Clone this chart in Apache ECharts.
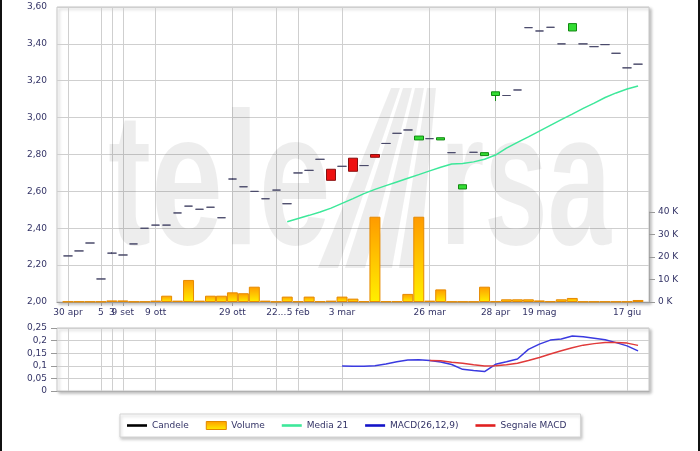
<!DOCTYPE html>
<html><head><meta charset="utf-8">
<script src="https://cdn.jsdelivr.net/npm/echarts@6/dist/echarts.min.js"></script>
<style>html,body{margin:0;padding:0;background:#fff}#c{width:700px;height:451px}</style>
</head><body><div id="c"></div>
<script>
// tick labels for the 55 category slots (first and last slots are empty padding)
const tickLabels = ['', '30 apr', '', '', '5', '3', '9 set', '', '', '9 ott', '',
  '', '', '', '', '', '29 ott', '', '', '', '22...', '', '5 feb', '', '', '',
  '3 mar', '', '', '', '', '', '', '', '26 mar', '', '', '', '', '', '28 apr',
  '', '', '', '19 mag', '', '', '', '', '', '', '', '17 giu', '', ''];

// candles, slots 1..53
const candleOpen  = [2.25,2.277,2.32,2.125,2.265,2.255,2.315,2.40,2.417,2.417,2.483,2.52,2.503,2.514,2.457,2.667,2.625,2.60,2.56,2.607,2.533,2.70,2.714,2.774,2.72,2.736,2.78,2.74,2.80,2.86,2.915,2.933,2.879,2.886,2.879,2.81,2.613,2.812,2.794,3.12,3.12,3.15,3.488,3.47,3.49,3.40,3.47,3.40,3.385,3.396,3.349,3.27,3.29];
const candleClose = [2.25,2.277,2.32,2.125,2.265,2.255,2.315,2.40,2.417,2.417,2.483,2.52,2.503,2.514,2.457,2.667,2.625,2.60,2.56,2.607,2.533,2.70,2.714,2.774,2.66,2.736,2.709,2.74,2.785,2.86,2.915,2.933,2.90,2.886,2.891,2.81,2.636,2.812,2.81,3.14,3.12,3.15,3.488,3.47,3.49,3.40,3.51,3.40,3.385,3.396,3.349,3.27,3.29];
const candleLow   = [2.25,2.277,2.32,2.125,2.26,2.255,2.315,2.40,2.417,2.417,2.483,2.52,2.503,2.514,2.457,2.662,2.625,2.60,2.56,2.607,2.533,2.70,2.714,2.774,2.66,2.736,2.709,2.74,2.785,2.86,2.915,2.933,2.879,2.886,2.879,2.81,2.613,2.812,2.794,3.09,3.12,3.15,3.488,3.47,3.49,3.40,3.47,3.40,3.385,3.396,3.349,3.27,3.29];
const candleHigh  = [2.25,2.277,2.32,2.125,2.27,2.255,2.315,2.40,2.417,2.417,2.483,2.52,2.503,2.514,2.457,2.672,2.625,2.60,2.56,2.607,2.533,2.70,2.714,2.774,2.72,2.736,2.78,2.74,2.80,2.86,2.915,2.933,2.90,2.886,2.891,2.81,2.636,2.812,2.81,3.14,3.12,3.15,3.488,3.47,3.49,3.40,3.51,3.40,3.385,3.396,3.349,3.27,3.29];
// volume, slots 1..53
const volume = [200,200,200,200,700,700,200,200,600,2800,600,9800,600,2800,2800,4300,3900,6800,600,200,2400,300,2400,300,600,2400,1500,300,37900,300,300,3600,37900,600,5600,200,200,200,6800,300,1200,1200,1200,700,300,1200,1800,200,200,200,200,200,900];
// Media 21, slots 21..53
const ma21 = [2.435,2.453,2.470,2.488,2.509,2.535,2.561,2.588,2.611,2.631,2.651,2.671,2.691,2.711,2.731,2.748,2.751,2.76,2.774,2.797,2.835,2.866,2.896,2.927,2.958,2.989,3.019,3.05,3.079,3.109,3.134,3.155,3.172];
// MACD, slots 26..53
const macd = [0.099,0.098,0.098,0.10,0.107,0.116,0.123,0.124,0.121,0.115,0.105,0.086,0.081,0.077,0.106,0.116,0.127,0.165,0.186,0.202,0.206,0.218,0.215,0.209,0.203,0.192,0.179,0.159];
// Segnale MACD, slots 34..53
const signal = [0.121,0.12,0.114,0.11,0.104,0.099,0.100,0.104,0.11,0.121,0.133,0.147,0.160,0.172,0.182,0.188,0.192,0.192,0.19,0.181];

const N = tickLabels.length;
const categories = tickLabels.map((_, i) => String(i));
function place(arr, start) {
  const out = new Array(N).fill('-');
  arr.forEach((v, k) => { out[start + k] = v; });
  return out;
}
const candleData = new Array(N).fill('-');
candleOpen.forEach((o, k) => { candleData[k + 1] = [o, candleClose[k], candleLow[k], candleHigh[k]]; });

const FONT = 'DejaVu Sans';
const TXT = '#333366';
const GRIDC = '#cfcfcf';
const WM = 'rgba(0,0,0,0.07)';
const showAt = (i) => tickLabels[i] !== '';
const volGrad = () => new echarts.graphic.LinearGradient(0, 0, 0, 1, [
  { offset: 0, color: '#ff9a00' }, { offset: 1, color: '#fff000' }]);
const lineIcon = 'path://M0,0H20V2.6H0Z';

// decorative watermark logo stripes
const logoStripes = [0, 1, 2, 3].map((k) => ({
  type: 'polygon', z: 1, silent: true,
  shape: { points: [[318 + 27 * k, 268], [338 + 27 * k, 268], [400 + 12 * k, 88], [391 + 12 * k, 88]] },
  style: { fill: WM }
}));

const chart = echarts.init(document.getElementById('c'), null, { renderer: 'canvas' });
chart.setOption({
  animation: false,
  backgroundColor: '#fff',
  textStyle: { fontFamily: FONT },
  graphic: [
    { type: 'text', x: 108, y: 192, scaleX: 0.68, z: 1, silent: true,
      style: { text: 'tele', font: 'bold 190px "Liberation Sans"', fill: WM, align: 'left', verticalAlign: 'middle' } },
    { type: 'text', x: 440, y: 192, scaleX: 0.6, z: 1, silent: true,
      style: { text: 'rsa', font: 'bold 190px "Liberation Sans"', fill: WM, align: 'left', verticalAlign: 'middle' } },
    ...logoStripes,
    { type: 'rect', x: 0, y: 0, shape: { width: 2, height: 451 }, style: { fill: '#111' }, z: 10 },
    { type: 'rect', x: 698, y: 0, shape: { width: 2, height: 451 }, style: { fill: '#111' }, z: 10 }
  ],
  grid: [
    { left: 57, top: 7, width: 592, height: 295, show: true, backgroundColor: '#fff', borderColor: '#c8c8c8', borderWidth: 1,
      shadowColor: 'rgba(0,0,0,0.25)', shadowBlur: 3, shadowOffsetX: 2, shadowOffsetY: 2 },
    { left: 57, top: 212, width: 592, height: 90 },
    { left: 57, top: 328, width: 592, height: 63, show: true, backgroundColor: '#fff', borderColor: '#c8c8c8', borderWidth: 1,
      shadowColor: 'rgba(0,0,0,0.25)', shadowBlur: 3, shadowOffsetX: 2, shadowOffsetY: 2 }
  ],
  legend: {
    left: 120, top: 414,
    padding: [7, 14, 7, 7],
    itemWidth: 20, itemHeight: 8, itemGap: 17,
    backgroundColor: '#fff', borderColor: '#d4d4d4', borderWidth: 1,
    shadowColor: 'rgba(0,0,0,0.2)', shadowBlur: 3, shadowOffsetY: 2, shadowOffsetX: 1,
    selectedMode: false,
    textStyle: { fontFamily: FONT, fontSize: 9, color: TXT },
    itemStyle: { borderWidth: 0 },
    data: [
      { name: 'Candele', icon: lineIcon, itemStyle: { color: '#000' } },
      { name: 'Volume', icon: 'rect', itemStyle: { color: volGrad(), borderColor: '#e08800', borderWidth: 1 } },
      { name: 'Media 21', icon: lineIcon, itemStyle: { color: '#3de89a' } },
      { name: 'MACD(26,12,9)', icon: lineIcon, itemStyle: { color: '#1414c8' } },
      { name: 'Segnale MACD', icon: lineIcon, itemStyle: { color: '#e02020' } }
    ]
  },
  xAxis: [
    { type: 'category', gridIndex: 0, data: categories, boundaryGap: false,
      axisLine: { lineStyle: { color: '#9a9a9a' } },
      axisTick: { show: true, interval: (i) => showAt(i), length: 4, lineStyle: { color: '#9a9a9a' } },
      axisLabel: { interval: (i) => showAt(i), formatter: (v, i) => tickLabels[i], margin: 6, fontFamily: FONT, fontSize: 9, color: TXT },
      splitLine: { show: true, interval: (i) => showAt(i), lineStyle: { color: GRIDC } } },
    { type: 'category', gridIndex: 1, data: categories, boundaryGap: false, show: false },
    { type: 'category', gridIndex: 2, data: categories, boundaryGap: false,
      axisLine: { lineStyle: { color: '#b0b0b0' } }, axisTick: { show: false }, axisLabel: { show: false },
      splitLine: { show: true, interval: (i) => showAt(i), lineStyle: { color: GRIDC } } }
  ],
  yAxis: [
    { type: 'value', gridIndex: 0, min: 2, max: 3.6, interval: 0.2,
      axisLine: { show: false }, axisTick: { show: false },
      axisLabel: { formatter: (v) => v.toFixed(2).replace('.', ','), margin: 10, fontFamily: FONT, fontSize: 9, color: TXT },
      splitLine: { lineStyle: { color: GRIDC } } },
    { type: 'value', gridIndex: 1, position: 'right', min: 0, max: 40000, interval: 10000,
      axisLine: { show: true, lineStyle: { color: '#a8a8a8' } },
      axisTick: { show: true, length: 6, lineStyle: { color: '#999' } },
      axisLabel: { formatter: (v) => (v / 1000) + ' K', margin: 9, fontFamily: FONT, fontSize: 9, color: TXT },
      splitLine: { show: false } },
    { type: 'value', gridIndex: 2, min: 0, max: 0.25, interval: 0.05,
      axisLine: { show: false },
      axisTick: { show: true, length: 6, lineStyle: { color: '#999' } },
      axisLabel: { formatter: (v) => String(Math.round(v * 100) / 100).replace('.', ','), margin: 10, fontFamily: FONT, fontSize: 9, color: TXT },
      splitLine: { lineStyle: { color: GRIDC } } }
  ],
  series: [
    { name: 'Volume', type: 'bar', xAxisIndex: 1, yAxisIndex: 1, data: place(volume, 1),
      barCategoryGap: '0%', z: 2,
      itemStyle: { color: volGrad(), borderColor: '#e68a00', borderWidth: 1 } },
    { name: 'Candele', type: 'candlestick', xAxisIndex: 0, yAxisIndex: 0, data: candleData,
      barWidth: 9, z: 4,
      itemStyle: { color: '#33dd33', color0: '#ee1111', borderColor: '#118811', borderColor0: '#881111',
        borderColorDoji: '#4a4a6a', borderWidth: 1 } },
    { name: 'Media 21', type: 'line', xAxisIndex: 0, yAxisIndex: 0, data: place(ma21, 21),
      symbol: 'none', z: 3, lineStyle: { color: '#3de89a', width: 1.5 }, itemStyle: { color: '#3de89a' } },
    { name: 'MACD(26,12,9)', type: 'line', xAxisIndex: 2, yAxisIndex: 2, data: place(macd, 26),
      symbol: 'none', lineStyle: { color: '#3a3ae0', width: 1.5 }, itemStyle: { color: '#3a3ae0' } },
    { name: 'Segnale MACD', type: 'line', xAxisIndex: 2, yAxisIndex: 2, data: place(signal, 34),
      symbol: 'none', lineStyle: { color: '#e03a3a', width: 1.5 }, itemStyle: { color: '#e03a3a' } }
  ]
});
</script></body></html>
